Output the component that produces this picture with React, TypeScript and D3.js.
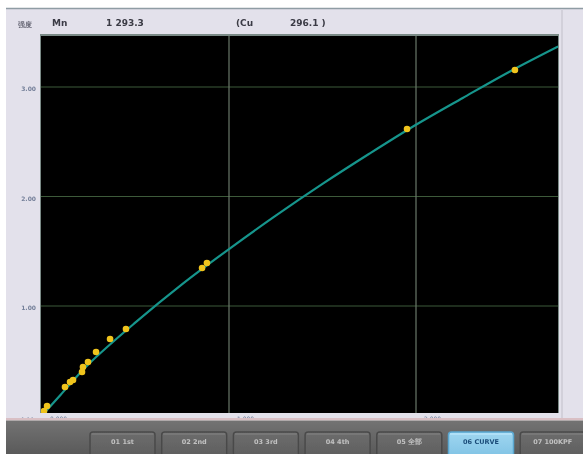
import React from "react";
import * as d3 from "d3";

// Header readout
const elementName = "Mn";
const wavelength = "1 293.3";
const refElement = "(Cu";
const refWavelength = "296.1 )";
const axisTitle = "强度";

// Axis ticks
const yTicks = [0, 1, 2, 3];
const yTickLabels = ["0.00", "1.00", "2.00", "3.00"];
const xTicks = [0, 1, 2];
const xTickLabels = ["0.000", "1.000", "2.000"];

// Calibration standards (concentration, intensity)
const stdConc = [0.011, 0.027, 0.123, 0.15, 0.166, 0.214, 0.219, 0.246, 0.289, 0.364, 0.449, 0.856, 0.882, 1.952, 2.529];
const stdIntensity = [0.041, 0.087, 0.26, 0.306, 0.324, 0.397, 0.443, 0.489, 0.58, 0.699, 0.79, 1.347, 1.393, 2.616, 3.155];

// Working curve
const curveConc = [0, 0.1, 0.25, 0.5, 0.75, 1.0, 1.25, 1.5, 1.75, 2.0, 2.25, 2.5, 2.76];
const curveIntensity = [0, 0.19, 0.47, 0.85, 1.2, 1.52, 1.825, 2.115, 2.39, 2.655, 2.9, 3.14, 3.37];

// Function keys
const buttonLabels = ["01 1st", "02 2nd", "03 3rd", "04 4th", "05 全部", "06 CURVE", "07 100KPF"];
const activeButton = 5;

const W = 583;
const H = 454;
const plot = { left: 41, right: 558, top: 36, bottom: 413 };

export default function App() {
  const x = d3.scaleLinear().domain([0, 1]).range([42, 229]);
  const y = d3.scaleLinear().domain([0, 1]).range([415.5, 306]);

  const line = d3
    .line<number>()
    .x((_, i) => x(curveConc[i]))
    .y((d) => y(d))
    .curve(d3.curveCatmullRom.alpha(0.5));

  const btnX = d3.scaleLinear().domain([0, 1]).range([90, 161.7]);
  const btnW = 65;

  return (
    <svg
      width={W}
      height={H}
      style={{ position: "absolute", left: 0, top: 0, background: "#fff" }}
      fontFamily="DejaVu Sans, sans-serif"
    >
      <defs>
        <linearGradient id="barGrad" x1="0" y1="0" x2="0" y2="1">
          <stop offset="0" stopColor="#737373" />
          <stop offset="1" stopColor="#5a5a5a" />
        </linearGradient>
        <linearGradient id="btnGrad" x1="0" y1="0" x2="0" y2="1">
          <stop offset="0" stopColor="#6c6c6c" />
          <stop offset="1" stopColor="#5e5e5e" />
        </linearGradient>
        <linearGradient id="btnActive" x1="0" y1="0" x2="0" y2="1">
          <stop offset="0" stopColor="#9fd6f0" />
          <stop offset="1" stopColor="#7fc2e4" />
        </linearGradient>
        <clipPath id="plotClip">
          <rect x={plot.left} y={plot.top} width={plot.right - plot.left} height={plot.bottom - plot.top} />
        </clipPath>
        <clipPath id="panelClip">
          <rect x={6} y={8} width={W - 6} height={411} />
        </clipPath>
        <filter id="soft" x="-20%" y="-20%" width="140%" height="140%">
          <feGaussianBlur stdDeviation="0.6" />
        </filter>
      </defs>

      {/* Screen panel */}
      <rect x={6} y={8} width={W - 6} height={412} fill="#e3e1eb" />
      <line x1={6} x2={W} y1={8.5} y2={8.5} stroke="#8f9ca4" strokeWidth={1.5} />
      <line x1={562} x2={562} y1={9} y2={418} stroke="#d2d0da" strokeWidth={2} />

      {/* Header */}
      <g fill="#3a3a44" fontSize={9} fontWeight="bold" filter="url(#soft)">
        <text x={18} y={27} fontSize={7} fill="#6a6a78">{axisTitle}</text>
        <text x={52} y={26}>{elementName}</text>
        <text x={106} y={26}>{wavelength}</text>
        <text x={236} y={26}>{refElement}</text>
        <text x={290} y={26}>{refWavelength}</text>
      </g>

      {/* Plot area */}
      <rect x={plot.left - 1} y={plot.top - 2} width={plot.right - plot.left + 2} height={plot.bottom - plot.top + 2} fill="#7a8a86" />
      <rect x={plot.left} y={plot.top} width={plot.right - plot.left} height={plot.bottom - plot.top} fill="#000" />

      <g clipPath="url(#plotClip)">
        {yTicks.filter((t) => t > 0).map((t) => (
          <line key={`gy${t}`} x1={plot.left} x2={plot.right} y1={y(t)} y2={y(t)} stroke="#3d5a3a" strokeWidth={1.2} />
        ))}
        {xTicks.filter((t) => t > 0).map((t) => (
          <line key={`gx${t}`} x1={x(t)} x2={x(t)} y1={plot.top} y2={plot.bottom} stroke="#6a786a" strokeWidth={1.2} />
        ))}
        <path d={line(curveIntensity) ?? ""} fill="none" stroke="#16958c" strokeWidth={2.2} />
        <g filter="url(#soft)">
          {stdConc.map((c, i) => (
            <circle key={i} cx={x(c)} cy={y(stdIntensity[i])} r={3.3} fill="#f0c41c" />
          ))}
        </g>
      </g>

      {/* Y tick labels */}
      <g fontSize={6} fontWeight="bold" fill="#75809a" textAnchor="end" filter="url(#soft)">
        {yTicks.filter((t) => t > 0).map((t) => (
          <text key={`yl${t}`} x={36} y={y(t) + 4}>{yTickLabels[t]}</text>
        ))}
      </g>

      {/* Bottom tick labels, partly under the panel edge */}
      <g clipPath="url(#panelClip)" fontSize={6} fill="#5f7090" filter="url(#soft)">
        <text x={34} y={422} textAnchor="end">{yTickLabels[0]}</text>
        {xTicks.map((t) => (
          <text key={`xl${t}`} x={x(t) + 8} y={421}>{xTickLabels[t]}</text>
        ))}
      </g>

      {/* Function key bar */}
      <rect x={6} y={418} width={W - 6} height={2.5} fill="#d9bfc4" />
      <rect x={6} y={420.5} width={W - 6} height={H - 420.5} fill="url(#barGrad)" />
      <g fontSize={6.5} filter="url(#soft)">
        {buttonLabels.map((label, i) => {
          const bx = btnX(i);
          const active = i === activeButton;
          return (
            <g key={label}>
              <rect
                x={bx}
                y={432}
                width={btnW}
                height={26}
                rx={3}
                fill={active ? "url(#btnActive)" : "url(#btnGrad)"}
                stroke={active ? "#5aa6cf" : "#4a4a4a"}
                strokeWidth={1.5}
              />
              <rect x={bx + 1.5} y={433.5} width={btnW - 3} height={1} fill={active ? "#c4ecff" : "#838383"} />
              <text
                x={bx + btnW / 2}
                y={444}
                textAnchor="middle"
                fill={active ? "#1d4e7a" : "#c2c2c2"}
                fontWeight="bold"
              >
                {label}
              </text>
            </g>
          );
        })}
      </g>
    </svg>
  );
}
